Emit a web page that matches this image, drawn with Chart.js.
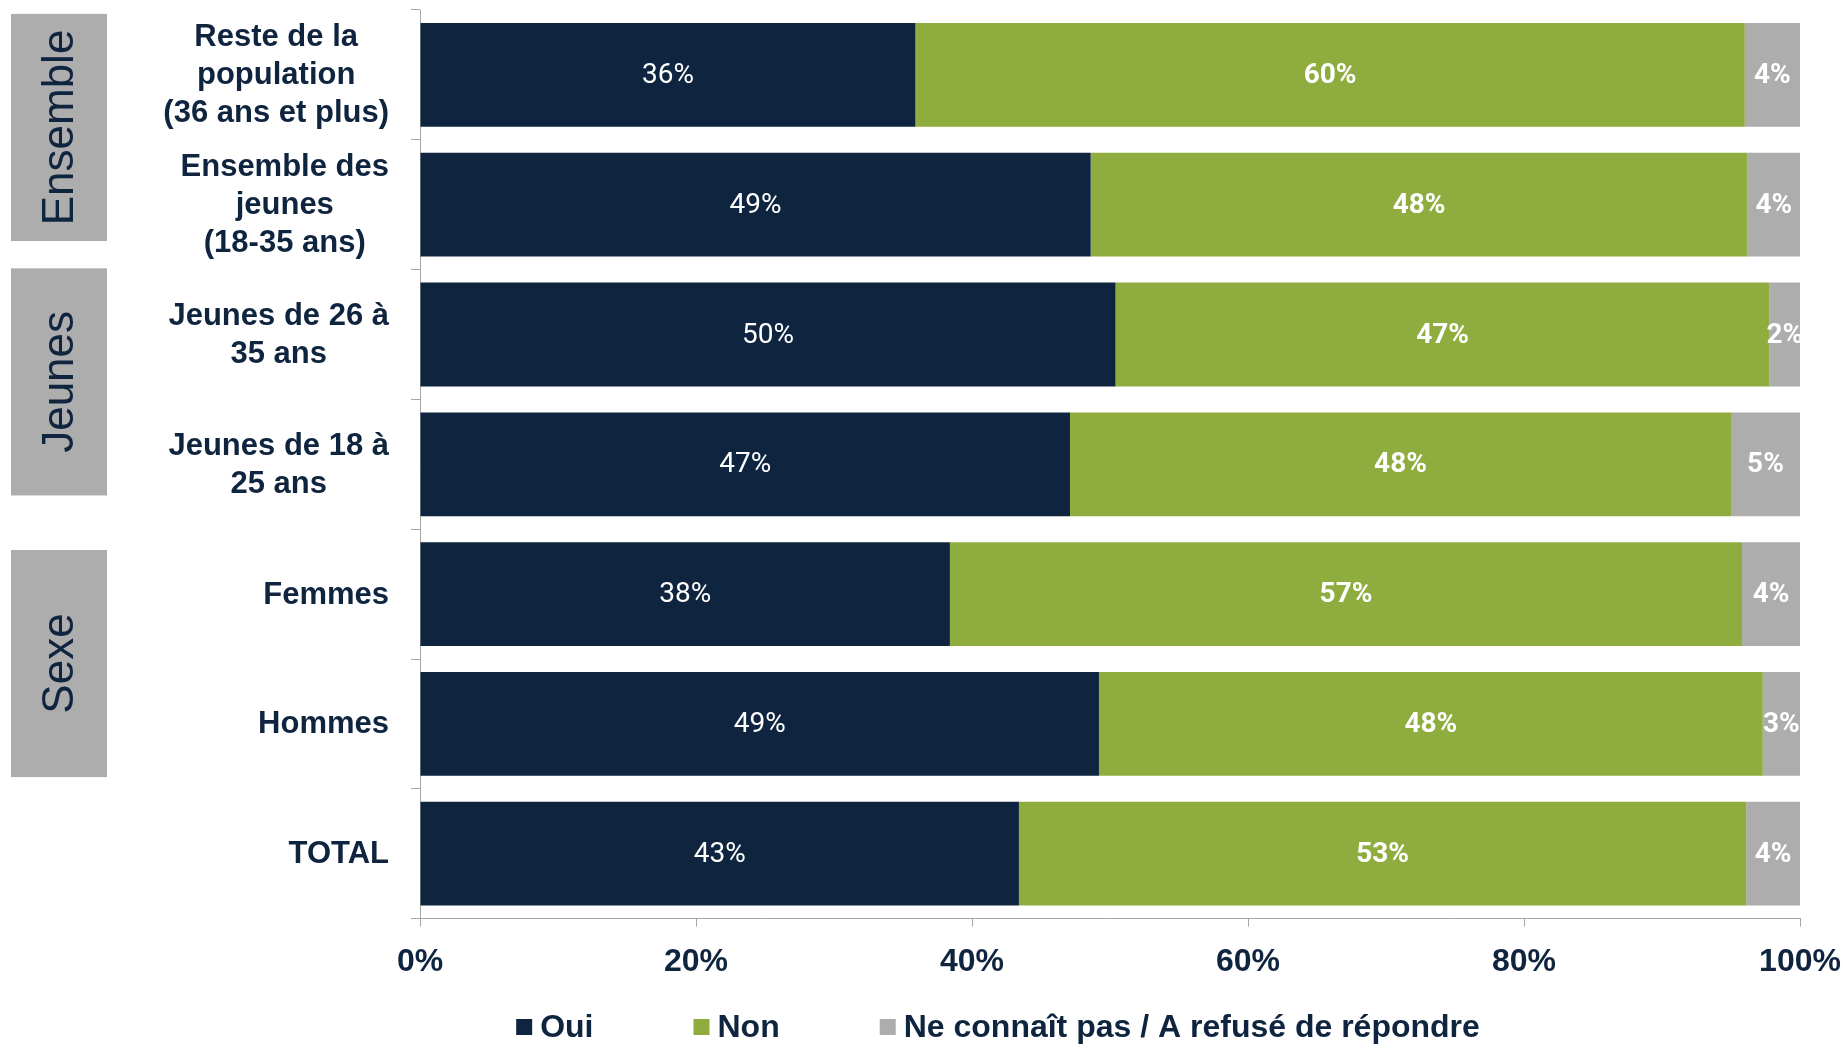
<!DOCTYPE html>
<html>
<head>
<meta charset="utf-8">
<script src="https://cdn.jsdelivr.net/npm/chart.js@4.4.1/dist/chart.umd.min.js"></script>
<style>
  html, body { margin: 0; padding: 0; background: #ffffff; }
  #wrap { width: 1843px; height: 1048px; }
</style>
</head>
<body>
<div id="wrap"><canvas id="c" width="1843" height="1048"></canvas></div>
<script>
// ---- data ----
const categories = [
  ["Reste de la", "population", "(36 ans et plus)"],
  ["Ensemble des", "jeunes", "(18-35 ans)"],
  ["Jeunes de 26 à", "35 ans"],
  ["Jeunes de 18 à", "25 ans"],
  ["Femmes"],
  ["Hommes"],
  ["TOTAL"]
];
const seriesNames = ["Oui", "Non", "Ne connaît pas / A refusé de répondre"];
const oui = [35.9, 48.6, 50.4, 47.1, 38.4, 49.2, 43.4];
const non = [60.1, 47.6, 47.4, 47.9, 57.4, 48.1, 52.7];
const nsp = [4.0, 3.8, 2.2, 5.0, 4.2, 2.7, 3.9];
const xTicks = [0, 20, 40, 60, 80, 100];
const groupNames = ["Ensemble", "Jeunes", "Sexe"];

// ---- styles ----
const NAVY = '#0f243e';
const GREEN = '#8fad3e';
const GREY = '#adadad';
const AXIS = '#a6a6a6';

function hasFont(name) {
  const c = document.createElement('canvas').getContext('2d');
  const s = 'abcdefghijklmnop0123456789%';
  c.font = '30px monospace';
  const a = c.measureText(s).width;
  c.font = '30px "' + name + '", monospace';
  const b = c.measureText(s).width;
  return Math.abs(a - b) > 0.5;
}
const narrowOK = hasFont('Liberation Sans Narrow');
const LBL_FAMILY = narrowOK ? '"Liberation Sans Narrow", "Liberation Sans", sans-serif' : 'Roboto, "Liberation Sans", sans-serif';
const LBL_SIZE = narrowOK ? 30 : 28;

// group box spans in category-index units (top, bottom)
const groupSpans = [[-0.47, 1.28], [1.49, 3.24], [3.66, 5.41]];

const labelPlugin = {
  id: 'segLabels',
  afterDatasetsDraw(chart) {
    const ctx = chart.ctx;
    const area = chart.chartArea;
    ctx.save();
    ctx.beginPath();
    ctx.rect(area.left, area.top, area.right - area.left, area.bottom - area.top);
    ctx.clip();
    ctx.fillStyle = '#ffffff';
    ctx.textAlign = 'center';
    ctx.textBaseline = 'middle';
    chart.data.datasets.forEach((ds, i) => {
      const meta = chart.getDatasetMeta(i);
      ctx.font = (i === 0 ? '' : 'bold ') + LBL_SIZE + 'px ' + LBL_FAMILY;
      meta.data.forEach((bar, j) => {
        const p = bar.getProps(['x', 'y', 'base'], true);
        const cx = (p.x + p.base) / 2;
        ctx.fillText(Math.round(ds.data[j]) + '%', cx, p.y + 1);
      });
    });
    ctx.restore();
  }
};

const sidePlugin = {
  id: 'sideLabels',
  afterDraw(chart) {
    const ctx = chart.ctx;
    const y = chart.scales.y;
    ctx.save();
    // category labels
    ctx.fillStyle = NAVY;
    ctx.font = 'bold 31px "Liberation Sans", Arial, sans-serif';
    ctx.textAlign = 'center';
    ctx.textBaseline = 'middle';
    const rightEdge = 389, lh = 38;
    categories.forEach((lines, i) => {
      const cy = y.getPixelForValue(i);
      let w = 0;
      lines.forEach(l => { w = Math.max(w, ctx.measureText(l).width); });
      const cx = rightEdge - w / 2;
      const y0 = cy - (lines.length - 1) * lh / 2;
      lines.forEach((l, k) => ctx.fillText(l, cx, y0 + k * lh + 1));
    });
    // group boxes
    groupNames.forEach((g, k) => {
      const t = y.getPixelForValue(groupSpans[k][0]);
      const b = y.getPixelForValue(groupSpans[k][1]);
      const left = 11, width = 96;
      ctx.fillStyle = GREY;
      ctx.fillRect(left, t, width, b - t);
      ctx.save();
      ctx.translate(left + width / 2 + 2, (t + b) / 2);
      ctx.rotate(-Math.PI / 2);
      ctx.fillStyle = NAVY;
      ctx.font = '44px "Liberation Sans", Arial, sans-serif';
      ctx.textAlign = 'center';
      ctx.textBaseline = 'middle';
      ctx.fillText(g, 0, 0);
      ctx.restore();
    });
    // legend
    ctx.font = 'bold 32px "Liberation Sans", Arial, sans-serif';
    ctx.textAlign = 'left';
    ctx.textBaseline = 'middle';
    const box = 16, gap = 8, spacing = 100, legY = 1027, legCx = 998;
    const items = chart.data.datasets.map(d => ({ text: d.label, color: d.backgroundColor, w: ctx.measureText(d.label).width }));
    let total = 0;
    items.forEach((it, i) => { total += box + gap + it.w + (i < items.length - 1 ? spacing : 0); });
    let x = legCx - total / 2;
    items.forEach(it => {
      ctx.fillStyle = it.color;
      ctx.fillRect(x, legY - box / 2, box, box);
      ctx.fillStyle = NAVY;
      ctx.fillText(it.text, x + box + gap, legY + 1);
      x += box + gap + it.w + spacing;
    });
    ctx.restore();
  }
};

new Chart(document.getElementById('c'), {
  type: 'bar',
  data: {
    labels: categories,
    datasets: [
      { label: seriesNames[0], data: oui, backgroundColor: NAVY },
      { label: seriesNames[1], data: non, backgroundColor: GREEN },
      { label: seriesNames[2], data: nsp, backgroundColor: GREY }
    ]
  },
  options: {
    indexAxis: 'y',
    responsive: false,
    animation: false,
    layout: { padding: { left: 411, right: 43, top: 10, bottom: 51 } },
    datasets: { bar: { categoryPercentage: 1.0, barPercentage: 0.8, borderWidth: 0 } },
    plugins: { legend: { display: false }, tooltip: { enabled: false } },
    scales: {
      x: {
        stacked: true,
        min: 0, max: 100,
        afterBuildTicks(scale) { scale.ticks = xTicks.map(v => ({ value: v })); },
        afterFit(scale) { scale.paddingLeft = 0; scale.paddingRight = 0; },
        grid: { drawOnChartArea: false, drawTicks: true, tickLength: 8, color: AXIS },
        border: { color: AXIS, width: 1 },
        ticks: {
          padding: 16,
          color: NAVY,
          font: { family: '"Liberation Sans", Arial, sans-serif', size: 32, weight: 'bold' },
          callback: v => v + '%'
        }
      },
      y: {
        stacked: true,
        offset: true,
        grid: { drawOnChartArea: false, drawTicks: true, tickLength: 9, color: AXIS, offset: true },
        border: { color: AXIS, width: 1 },
        ticks: { display: false }
      }
    }
  },
  plugins: [labelPlugin, sidePlugin]
});
</script>
</body>
</html>
